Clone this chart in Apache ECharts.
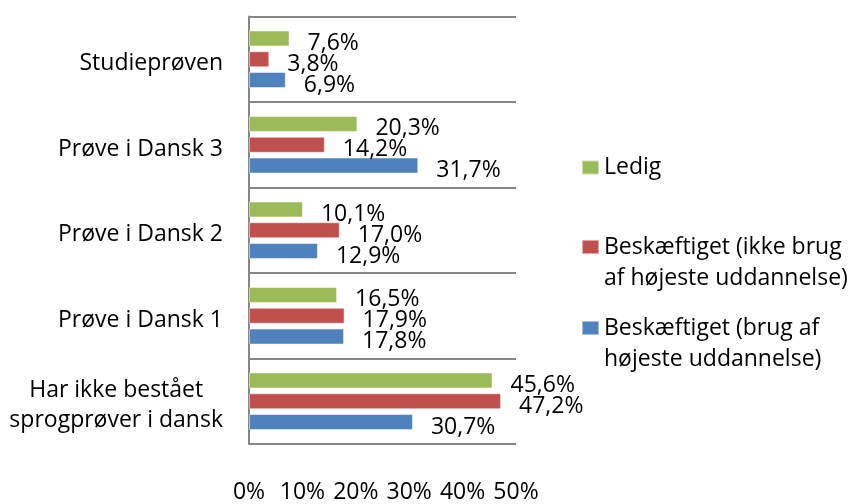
<!DOCTYPE html>
<html><head><meta charset="utf-8">
<script src="https://cdn.jsdelivr.net/npm/echarts@6/dist/echarts.min.js"></script>
<style>html,body{margin:0;padding:0;background:#fff}#c{width:851px;height:504px}</style>
</head><body><div id="c"></div>
<script>
const categories = ['Har ikke bestået sprogprøver i dansk', 'Prøve i Dansk 1', 'Prøve i Dansk 2', 'Prøve i Dansk 3', 'Studieprøven'];
const seriesNames = ['Ledig', 'Beskæftiget (ikke brug af højeste uddannelse)', 'Beskæftiget (brug af højeste uddannelse)'];
const ledig = [45.6, 16.5, 10.1, 20.3, 7.6];
const beskIkke = [47.2, 17.9, 17.0, 14.2, 3.8];
const beskBrug = [30.7, 17.8, 12.9, 31.7, 6.9];
const xTicks = [0, 10, 20, 30, 40, 50];
const colors = ['#9BBB59', '#C0504D', '#4F81BD'];

const FONT = 'Open Sans';
const FS = 23;
const legendText = {
  'Ledig': 'Ledig',
  'Beskæftiget (ikke brug af højeste uddannelse)': '\nBeskæftiget (ikke brug\naf højeste uddannelse)',
  'Beskæftiget (brug af højeste uddannelse)': '\nBeskæftiget (brug af\nhøjeste uddannelse)'
};
const values = [ledig, beskIkke, beskBrug];
const legendTops = [152, 200.5, 281.5];

const chart = echarts.init(document.getElementById('c'), null, {renderer: 'canvas'});
const series = seriesNames.map((n, i) => ({
  name: n, type: 'bar', data: values[i], barWidth: 16, barGap: '30%',
  itemStyle: {color: colors[i], borderColor: 'rgba(255,255,255,0.5)', borderWidth: 1},
  label: {show: true, position: 'right', distance: 18, offset: [0, 5], color: '#000',
    fontFamily: FONT, fontSize: FS,
    formatter: p => p.value.toFixed(1).replace('.', ',') + '%'}
}));
const legends = seriesNames.map((n, i) => ({
  data: [n], orient: 'vertical', left: 581, top: legendTops[i], padding: 0,
  icon: 'rect', itemWidth: 17, itemHeight: 14, selectedMode: false,
  formatter: name => legendText[name],
  textStyle: {fontFamily: FONT, fontSize: FS, color: '#000', lineHeight: 31}
}));
chart.setOption({
  animation: false,
  backgroundColor: '#fff',
  grid: {left: 249, right: 335, top: 16.5, bottom: 56, containLabel: false},
  legend: legends,
  xAxis: {type: 'value', min: xTicks[0], max: xTicks[xTicks.length - 1], interval: 10,
    axisLine: {show: false}, axisTick: {show: false}, splitLine: {show: false},
    axisLabel: {margin: 37, color: '#000', fontFamily: FONT, fontSize: FS, formatter: '{value}%'}},
  yAxis: {type: 'category', data: categories,
    axisLine: {show: true, lineStyle: {color: '#868686', width: 2}},
    axisTick: {show: false},
    splitLine: {show: true, lineStyle: {color: '#868686', width: 2}},
    axisLabel: {margin: 26, color: '#000', fontFamily: FONT, fontSize: FS, lineHeight: 30,
      padding: [9, 0, 0, 0],
      formatter: v => v === categories[0] ? '{c|Har ikke bestået}\n{c|sprogprøver i dansk}' : v,
      rich: {c: {align: 'center', fontFamily: FONT, fontSize: FS, lineHeight: 30, color: '#000'}}}},
  series: series
});
</script></body></html>
